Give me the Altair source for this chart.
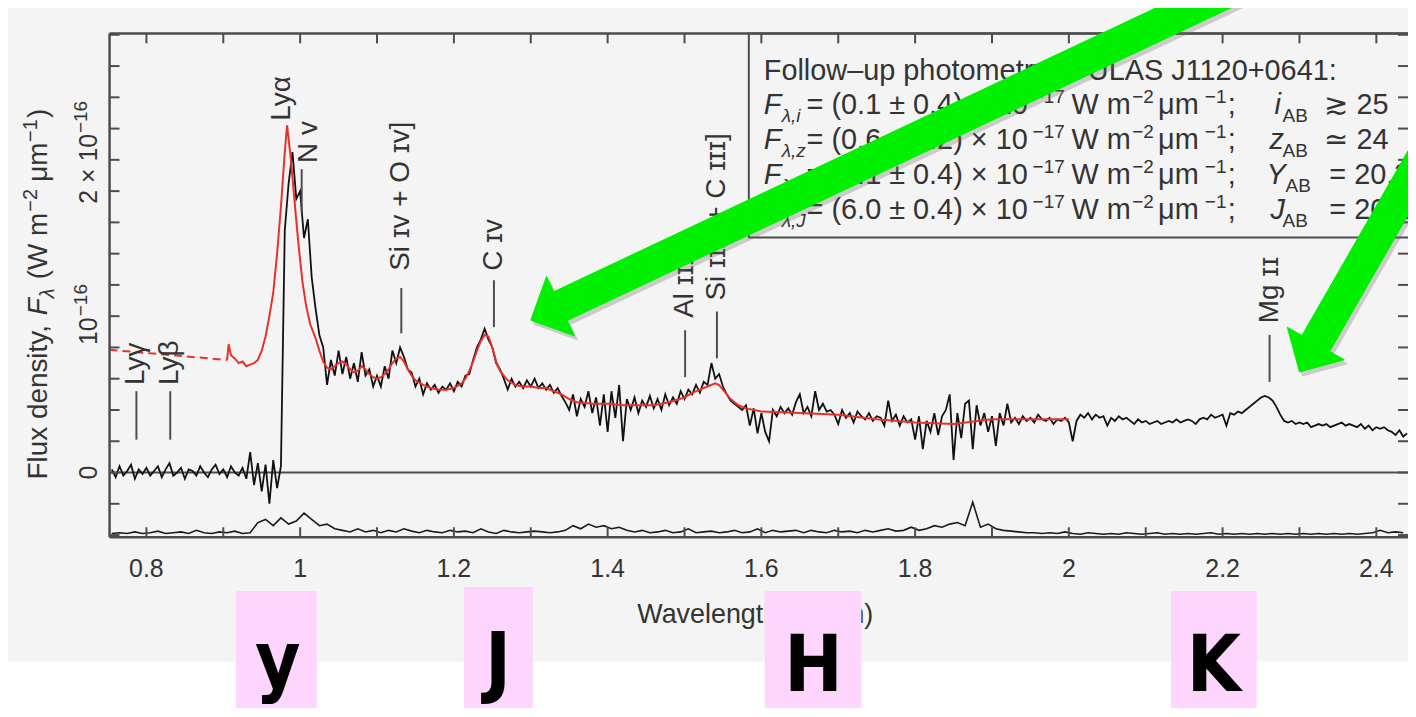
import altair as alt
import pandas as pd

W, H = 1304, 506
FONT = "Liberation Sans, Arial, Helvetica, sans-serif"
NARROW = "Liberation Sans Narrow, DejaVu Sans Condensed, Arial Narrow, sans-serif"
INK = "#333333"
FRAME = "#4d4d4d"

# ---------------- data (flux in units of 1e-16 W m^-2 um^-1) ----------------
# observed spectrum, sampled every 0.005 um starting at 0.755 um
flux_0755 = [0.02, -0.03, 0.04, -0.02, 0.01, 0.05, -0.04, 0.02, -0.01]
flux_0800 = [0.03, -0.02, 0.01, 0.04, -0.03, 0.02, 0.06, -0.02, 0.00, 0.03,
             -0.04, 0.02, 0.01, -0.02, 0.04, 0.00, -0.03, 0.02, 0.05, -0.01]
flux_0900 = [0.02, -0.03, 0.04, 0.00, -0.02, 0.03, -0.04, 0.13, -0.08, 0.06,
             -0.12, 0.05, -0.20, 0.08, -0.10, 0.04, 1.55, 1.85, 2.05, 1.75]
flux_1000 = [1.80, 1.50, 1.62, 1.25, 1.05, 0.88, 0.80, 0.56, 0.72, 0.62,
             0.78, 0.63, 0.74, 0.60, 0.70, 0.58, 0.77, 0.62, 0.66, 0.55]
flux_1100 = [0.62, 0.55, 0.68, 0.60, 0.78, 0.70, 0.80, 0.74, 0.66, 0.64,
             0.55, 0.60, 0.50, 0.57, 0.53, 0.56, 0.51, 0.55, 0.53, 0.57]
flux_1200 = [0.52, 0.58, 0.55, 0.62, 0.63, 0.72, 0.80, 0.85, 0.92, 0.85,
             0.80, 0.70, 0.66, 0.60, 0.53, 0.60, 0.55, 0.58, 0.54, 0.59]
flux_1300 = [0.55, 0.60, 0.54, 0.57, 0.53, 0.56, 0.51, 0.54, 0.49, 0.45,
             0.40, 0.50, 0.36, 0.47, 0.42, 0.52, 0.38, 0.48, 0.30, 0.50]
flux_1400 = [0.26, 0.52, 0.35, 0.56, 0.20, 0.47, 0.40, 0.48, 0.38, 0.46,
             0.42, 0.49, 0.41, 0.47, 0.40, 0.50, 0.43, 0.48, 0.44, 0.52]
flux_1500 = [0.47, 0.53, 0.50, 0.56, 0.51, 0.58, 0.56, 0.70, 0.60, 0.63,
             0.55, 0.50, 0.46, 0.44, 0.42, 0.40, 0.43, 0.30, 0.41, 0.25]
flux_1600 = [0.38, 0.26, 0.20, 0.40, 0.36, 0.42, 0.38, 0.41, 0.37, 0.45,
             0.50, 0.38, 0.42, 0.36, 0.52, 0.40, 0.44, 0.39, 0.40, 0.37]
flux_1700 = [0.31, 0.40, 0.35, 0.38, 0.32, 0.39, 0.36, 0.34, 0.38, 0.33,
             0.36, 0.35, 0.30, 0.46, 0.33, 0.37, 0.30, 0.36, 0.32, 0.34]
flux_1800 = [0.21, 0.36, 0.15, 0.33, 0.26, 0.38, 0.24, 0.36, 0.40, 0.50,
             0.08, 0.38, 0.22, 0.44, 0.46, 0.15, 0.43, 0.30, 0.38, 0.26]
flux_1900 = [0.36, 0.17, 0.38, 0.30, 0.44, 0.32, 0.35, 0.31, 0.36, 0.33,
             0.35, 0.32, 0.37, 0.34, 0.33, 0.35, 0.31, 0.34, 0.33, 0.35]
flux_2000 = [0.32, 0.20, 0.33, 0.37, 0.35, 0.38, 0.34, 0.37, 0.35, 0.36,
             0.30, 0.35, 0.33, 0.36, 0.34, 0.35, 0.33, 0.31, 0.34, 0.32]
flux_2100 = [0.33, 0.31, 0.32, 0.33, 0.31, 0.32, 0.33, 0.32, 0.34, 0.32,
             0.33, 0.34, 0.33, 0.31, 0.34, 0.35, 0.34, 0.37, 0.35, 0.36]
flux_2200 = [0.37, 0.30, 0.38, 0.37, 0.39, 0.38, 0.40, 0.42, 0.44, 0.46,
             0.48, 0.49, 0.48, 0.46, 0.42, 0.37, 0.33, 0.32, 0.33, 0.31]
flux_2300 = [0.32, 0.31, 0.32, 0.29, 0.30, 0.31, 0.30, 0.31, 0.29, 0.30,
             0.31, 0.32, 0.30, 0.31, 0.30, 0.29, 0.31, 0.28, 0.30, 0.27]
flux_2400 = [0.29, 0.28, 0.29, 0.27, 0.26, 0.24, 0.27, 0.23, 0.25]

black_flux = (flux_0755 + flux_0800 + flux_0900 + flux_1000 + flux_1100 + flux_1200
              + flux_1300 + flux_1400 + flux_1500 + flux_1600 + flux_1700 + flux_1800
              + flux_1900 + flux_2000 + flux_2100 + flux_2200 + flux_2300 + flux_2400)
black_wl = [round(0.755 + 0.005 * i, 3) for i in range(len(black_flux))]

# noise spectrum (drawn offset near the bottom), sampled every 0.01 um from 0.755 um
noise_flux = [
    -0.39, -0.385, -0.39, -0.38, -0.39, -0.385, -0.375, -0.39, -0.385, -0.38,
    -0.39, -0.37, -0.385, -0.39, -0.38, -0.385, -0.375, -0.39, -0.385, -0.32,
    -0.30, -0.34, -0.29, -0.33, -0.31, -0.26, -0.30, -0.34, -0.33, -0.36,
    -0.37, -0.38, -0.36, -0.38, -0.37, -0.385, -0.37, -0.38, -0.36, -0.375,
    -0.385, -0.37, -0.38, -0.385, -0.37, -0.38, -0.375, -0.385, -0.36, -0.38,
    -0.39, -0.37, -0.38, -0.385, -0.38, -0.375, -0.38, -0.385, -0.38, -0.37,
    -0.34, -0.36, -0.33, -0.35, -0.34, -0.36, -0.35, -0.37, -0.38, -0.37,
    -0.385, -0.38, -0.37, -0.385, -0.38, -0.36, -0.385, -0.38, -0.375, -0.385,
    -0.38, -0.37, -0.385, -0.38, -0.36, -0.385, -0.37, -0.38, -0.375, -0.37,
    -0.385, -0.37, -0.38, -0.385, -0.37, -0.38, -0.375, -0.385, -0.37, -0.38,
    -0.37, -0.36, -0.375, -0.37, -0.35, -0.37, -0.36, -0.34, -0.35, -0.33,
    -0.32, -0.34, -0.19, -0.35, -0.33, -0.36, -0.37, -0.375, -0.38, -0.385,
    -0.385, -0.39, -0.385, -0.39, -0.38, -0.39, -0.395, -0.385, -0.39, -0.395,
    -0.39, -0.395, -0.385, -0.39, -0.395, -0.39, -0.385, -0.395, -0.39, -0.395,
    -0.39, -0.395, -0.39, -0.385, -0.395, -0.39, -0.395, -0.39, -0.395, -0.39,
    -0.395, -0.39, -0.395, -0.39, -0.395, -0.39, -0.395, -0.39, -0.395, -0.39,
    -0.395, -0.39, -0.395, -0.39, -0.385, -0.37, -0.385, -0.38, -0.385]
noise_wl = [round(0.755 + 0.01 * i, 3) for i in range(len(noise_flux))]

# model (red)
red_dash_wl = [0.752, 0.905]
red_dash_flux = [0.785, 0.72]
red_wl = [0.905, 0.907, 0.91, 0.915, 0.92, 0.925, 0.93, 0.935, 0.94, 0.945,
          0.95, 0.955, 0.96, 0.965, 0.97, 0.975, 0.98, 0.983, 0.988, 0.993,
          0.998, 1.003, 1.008, 1.013, 1.02, 1.025, 1.03, 1.035, 1.04, 1.045,
          1.05, 1.055, 1.06, 1.065, 1.07, 1.075, 1.08, 1.085, 1.09, 1.095,
          1.10, 1.105, 1.11, 1.115, 1.12, 1.125, 1.13, 1.135, 1.14, 1.145,
          1.15, 1.16, 1.17, 1.18, 1.19, 1.20, 1.21, 1.215, 1.22, 1.225,
          1.23, 1.235, 1.24, 1.245, 1.25, 1.255, 1.26, 1.27, 1.28, 1.29,
          1.30, 1.31, 1.32, 1.33, 1.34, 1.35, 1.36, 1.38, 1.40, 1.42,
          1.44, 1.46, 1.48, 1.50, 1.51, 1.52, 1.53, 1.54, 1.545, 1.55,
          1.56, 1.57, 1.58, 1.60, 1.65, 1.70, 1.75, 1.80, 1.85, 1.90,
          1.95, 2.00]
red_flux = [0.72, 0.82, 0.75, 0.73, 0.70, 0.71, 0.68, 0.69, 0.70, 0.72,
            0.78, 0.87, 1.00, 1.15, 1.40, 1.70, 2.05, 2.22, 2.00, 1.72,
            1.45, 1.22, 1.06, 0.95, 0.86, 0.78, 0.71, 0.67, 0.66, 0.68,
            0.70, 0.71, 0.69, 0.66, 0.64, 0.65, 0.68, 0.66, 0.63, 0.61,
            0.60, 0.61, 0.63, 0.66, 0.70, 0.73, 0.74, 0.71, 0.66, 0.62,
            0.59, 0.56, 0.54, 0.53, 0.53, 0.54, 0.57, 0.60, 0.65, 0.71,
            0.78, 0.84, 0.88, 0.87, 0.80, 0.71, 0.65, 0.59, 0.56, 0.55,
            0.55, 0.54, 0.54, 0.52, 0.50, 0.47, 0.45, 0.44, 0.44, 0.43,
            0.43, 0.43, 0.45, 0.48, 0.51, 0.53, 0.55, 0.57, 0.56, 0.53,
            0.47, 0.43, 0.41, 0.39, 0.38, 0.37, 0.34, 0.32, 0.31, 0.34,
            0.34, 0.34]

# emission-line identifications
line_labels = ["Lyγ", "Lyβ", "Lyα", "N ᴠ", "Si ɪᴠ + O ɪᴠ]", "C ɪᴠ", "Al ɪɪɪ",
               "Si ɪɪɪ] + C ɪɪɪ]", "Mg ɪɪ"]
line_label_wl = [0.787, 0.831, 0.976, 1.012, 1.1316, 1.2521, 1.5008, 1.5422, 2.2611]
line_label_start = [0.56, 0.56, 2.25, 1.98, 1.29, 1.29, 0.99, 1.10, 0.955]
marker_wl = [0.787, 0.831, 1.002, 1.1316, 1.2521, 1.5008, 1.5422, 2.2611]
marker_lo = [0.21, 0.21, 1.66, 0.89, 0.93, 0.61, 0.73, 0.58]
marker_hi = [0.52, 0.52, 1.94, 1.18, 1.23, 0.91, 1.03, 0.88]

# axis ticks and labels
x_tick_values = [0.8, 0.9, 1.0, 1.1, 1.2, 1.3, 1.4, 1.5, 1.6, 1.7, 1.8, 1.9,
                 2.0, 2.1, 2.2, 2.3, 2.4]
x_label_values = [0.8, 1.0, 1.2, 1.4, 1.6, 1.8, 2.0, 2.2, 2.4]
x_label_text = ["0.8", "1", "1.2", "1.4", "1.6", "1.8", "2", "2.2", "2.4"]
y_tick_values = [-0.4, -0.2, 0.0, 0.2, 0.4, 0.6, 0.8, 1.0, 1.2, 1.4, 1.6, 1.8,
                 2.0, 2.2, 2.4, 2.6, 2.8]

# photometry box text
leg_title = "Follow–up photometry of ULAS J1120+0641:"
leg_band = ["i", "z", "Y", "J"]
leg_flux = ["(0.1 ± 0.4)", "(0.6 ± 0.2)", "(8.1 ± 0.4)", "(6.0 ± 0.4)"]
leg_rel = ["≳ 25", "≃ 24", "= 20.3", "= 20.2"]

# NIR band markers below the axis
band_names = ["y", "J", "H", "K"]
band_lo = [0.9166, 1.2132, 1.6044, 2.1329]
band_hi = [1.0215, 1.3026, 1.7301, 2.2443]
band_center = [0.971, 1.2573, 1.6679, 2.1886]

# highlight arrows (vertices in wavelength / flux units)
arrow1_wl = [1.3000, 1.3569, 1.3475, 2.2461, 2.2285, 1.3298, 1.3205, 1.3000]
arrow1_f = [0.9745, 0.8739, 0.9720, 3.0541, 3.2389, 1.1563, 1.2541, 0.9745]
arrow2_wl = [2.3000, 2.3583, 2.3393, 2.5760, 2.5400, 2.3032, 2.2842, 2.3000]
arrow2_f = [0.6433, 0.7210, 0.7745, 2.8013, 2.9032, 0.8764, 0.9299, 0.6433]

# ---------------- chart ----------------
xs = alt.Scale(domain=[0.75207, 2.44119], nice=False, zero=False)
ys = alt.Scale(domain=[-0.4140, 2.8089], nice=False, zero=False)
one = pd.DataFrame({"k": [0]})


def X(field):
    return alt.X(field, scale=xs, axis=None)


def Y(field):
    return alt.Y(field, scale=ys, axis=None)


def px_text(rows, size, style="normal", angle=0, align="left", baseline="alphabetic",
            font=FONT, color=INK, weight="normal"):
    df = pd.DataFrame(rows, columns=["t", "px", "py"])
    return alt.Chart(df).mark_text(
        font=font, fontSize=size, fontStyle=style, fontWeight=weight, color=color,
        angle=angle, align=align, baseline=baseline).encode(
        x=alt.X("px:Q", scale=None), y=alt.Y("py:Q", scale=None), text="t:N")


layers = []

# white strip below the grey figure background
layers.append(alt.Chart(one).mark_rect(color="white").encode(
    x=alt.value(-110), x2=alt.value(W + 10), y=alt.value(631), y2=alt.value(700)))

# x tick labels (positioned through the x scale)
xl_df = pd.DataFrame({"wl": x_label_values, "t": x_label_text})
layers.append(alt.Chart(xl_df).mark_text(
    font=FONT, fontSize=25, color=INK, align="center", baseline="middle").encode(
    x=X("wl:Q"), y=alt.value(H + 32), text="t:N"))

# y tick labels
layers.append(alt.Chart(pd.DataFrame({"f": [0.0], "t": ["0"]})).mark_text(
    font=FONT, fontSize=25, color=INK, angle=270, align="center", baseline="alphabetic").encode(
    y=Y("f:Q"), x=alt.value(-13), text="t:N"))
layers.append(px_text([("10", -13, 313), ("2 × 10", -13, 171)], 25, angle=270))
layers.append(px_text([("−16", -23, 284), ("−16", -23, 100)], 19, angle=270))

# axis titles
layers.append(px_text([("Wavelength,", 530, 592), ("(μm)", 711, 592)], 27))
layers.append(px_text([("λ", 691, 592)], 27, style="italic"))
layers.append(px_text([("Flux density,", -63, 448), ("(W m", -63, 247), ("μm", -63, 149),
                       (")", -63, 85)], 28, angle=270))
layers.append(px_text([("F", -63, 283)], 28, style="italic", angle=270))
layers.append(px_text([("λ", -56, 266)], 20, style="italic", angle=270))
layers.append(px_text([("−2", -73, 179), ("−1", -73, 109)], 20, angle=270))

# pink band boxes and letters
band_df = pd.DataFrame({
    "name": band_names, "lo": band_lo, "hi": band_hi, "c": band_center,
    "top": [560, 556, 560, 560], "base": [656, 657, 660, 660]})
layers.append(alt.Chart(band_df).mark_rect(color="#fdd5fd").encode(
    x=X("lo:Q"), x2="hi:Q", y=alt.Y("top:Q", scale=None), y2=alt.value(700)))
layers.append(alt.Chart(band_df).mark_text(
    font=NARROW, fontSize=78, fontWeight="bold", color="black",
    align="center", baseline="alphabetic").encode(
    x=X("c:Q"), y=alt.Y("base:Q", scale=None), text="name:N"))

# photometry box
layers.append(alt.Chart(one).mark_rect(fillOpacity=0, stroke=FRAME, strokeWidth=2).encode(
    x=alt.value(642), x2=alt.value(W + 10), y=alt.value(0), y2=alt.value(205)))

pieces = {"normal": [], "italic": [], "small": [], "small_italic": []}
pieces["normal"].append((leg_title, 657, 47))
var_x = [1170, 1165, 1162, 1166]
ab_x = [1178, 1178, 1181, 1178]
rel_x = [1220, 1220, 1225, 1225]
for k in range(4):
    b = 81 + 35 * k
    pieces["italic"].append(("F", 657, b))
    pieces["small_italic"].append(("λ," + leg_band[k], 675, b + 8))
    pieces["normal"].append(("= " + leg_flux[k] + " × 10", 700, b))
    pieces["small"].append(("−17", 927, b - 11))
    pieces["normal"].append(("W m", 966, b))
    pieces["small"].append(("−2", 1027, b - 11))
    pieces["normal"].append(("μm", 1053, b))
    pieces["small"].append(("−1", 1100, b - 11))
    pieces["normal"].append((";", 1123, b))
    pieces["italic"].append((leg_band[k], var_x[k], b))
    pieces["small"].append(("AB", ab_x[k], b + 8))
    pieces["normal"].append((leg_rel[k], rel_x[k], b))

styles = {"normal": (29, "normal"), "italic": (29, "italic"),
          "small": (19, "normal"), "small_italic": (19, "italic")}
for key, rows in pieces.items():
    size, style = styles[key]
    layers.append(px_text(rows, size, style=style))

# zero level
layers.append(alt.Chart(pd.DataFrame({"f": [0.0]})).mark_rule(color=FRAME, strokeWidth=2).encode(
    y=Y("f:Q"), x=alt.value(0), x2=alt.value(W)))

# noise spectrum
noise_df = pd.DataFrame({"wl": noise_wl, "f": noise_flux})
layers.append(alt.Chart(noise_df).mark_line(color="#1a1a1a", strokeWidth=1.6).encode(
    x=X("wl:Q"), y=Y("f:Q")))

# observed spectrum
black_df = pd.DataFrame({"wl": black_wl, "f": black_flux})
layers.append(alt.Chart(black_df).mark_line(color="#111111", strokeWidth=1.8).encode(
    x=X("wl:Q"), y=Y("f:Q")))

# model
layers.append(alt.Chart(pd.DataFrame({"wl": red_dash_wl, "f": red_dash_flux})).mark_line(
    color="#e8312b", strokeWidth=2, strokeDash=[8, 5]).encode(x=X("wl:Q"), y=Y("f:Q")))
layers.append(alt.Chart(pd.DataFrame({"wl": red_wl, "f": red_flux})).mark_line(
    color="#e8312b", strokeWidth=2).encode(x=X("wl:Q"), y=Y("f:Q")))

# line identifications
marker_df = pd.DataFrame({"wl": marker_wl, "lo": marker_lo, "hi": marker_hi})
layers.append(alt.Chart(marker_df).mark_rule(color=FRAME, strokeWidth=2).encode(
    x=X("wl:Q"), y=Y("lo:Q"), y2="hi:Q"))
label_df = pd.DataFrame({"wl": line_label_wl, "f": line_label_start, "t": line_labels})
layers.append(alt.Chart(label_df).mark_text(
    font=FONT, fontSize=28, color=INK, angle=270, align="left", baseline="middle").encode(
    x=X("wl:Q"), y=Y("f:Q"), text="t:N"))

# frame and inward ticks
layers.append(alt.Chart(one).mark_rule(color=FRAME, strokeWidth=2.5).encode(
    x=alt.value(0), y=alt.value(0), y2=alt.value(H)))
layers.append(alt.Chart(one).mark_rule(color=FRAME, strokeWidth=2.5).encode(
    y=alt.value(0), x=alt.value(0), x2=alt.value(W)))
layers.append(alt.Chart(one).mark_rule(color=FRAME, strokeWidth=2.5).encode(
    y=alt.value(H), x=alt.value(0), x2=alt.value(W)))
xt_df = pd.DataFrame({"wl": x_tick_values})
yt_df = pd.DataFrame({"f": y_tick_values})
layers.append(alt.Chart(xt_df).mark_rule(color=FRAME, strokeWidth=2).encode(
    x=X("wl:Q"), y=alt.value(H - 10), y2=alt.value(H)))
layers.append(alt.Chart(xt_df).mark_rule(color=FRAME, strokeWidth=2).encode(
    x=X("wl:Q"), y=alt.value(0), y2=alt.value(10)))
layers.append(alt.Chart(yt_df).mark_rule(color=FRAME, strokeWidth=2).encode(
    y=Y("f:Q"), x=alt.value(0), x2=alt.value(10)))
layers.append(alt.Chart(yt_df).mark_rule(color=FRAME, strokeWidth=2).encode(
    y=Y("f:Q"), x=alt.value(W - 10), x2=alt.value(W)))

# arrows (shadow, then green)
arrow_df = pd.DataFrame({
    "wl": arrow1_wl + arrow2_wl,
    "f": arrow1_f + arrow2_f,
    "i": list(range(len(arrow1_wl))) + list(range(len(arrow2_wl))),
    "a": ["a1"] * len(arrow1_wl) + ["a2"] * len(arrow2_wl)})
layers.append(alt.Chart(arrow_df).mark_line(
    fill="#6e6e6e", stroke="#6e6e6e", strokeWidth=1, opacity=0.3, xOffset=3, yOffset=4).encode(
    x=X("wl:Q"), y=Y("f:Q"), order="i:Q", detail="a:N"))
layers.append(alt.Chart(arrow_df).mark_line(
    fill="#00f000", stroke="#00f000", strokeWidth=1).encode(
    x=X("wl:Q"), y=Y("f:Q"), order="i:Q", detail="a:N"))

chart = alt.layer(*layers).properties(
    width=W, height=H,
    padding={"left": 102, "top": 24, "right": 0, "bottom": 170},
    autosize=alt.AutoSizeParams(type="none"),
    background="#f4f4f4",
).configure_view(strokeWidth=0)

chart.save("out.html", embed_options={"renderer": "svg", "actions": False})
